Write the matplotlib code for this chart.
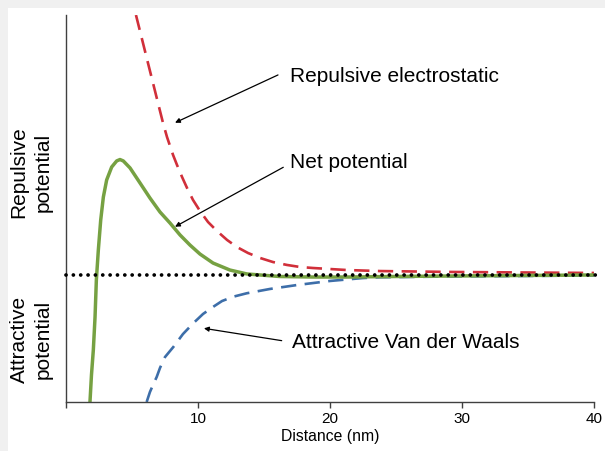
import matplotlib
matplotlib.use('Agg')
import matplotlib.pyplot as plt
from matplotlib.patches import Rectangle

plt.rcParams['font.family'] = ['Liberation Sans', 'DejaVu Sans']

# Curves (arbitrary potential units, zero = dotted line)
rep_x = [5.30, 5.83, 6.21, 6.59, 6.97, 7.35, 7.65, 8.11, 8.41, 8.79, 9.17, 9.62, 10.15, 10.76,
         11.44, 12.20, 12.95, 13.79, 14.70, 15.68, 16.74, 17.73, 18.71, 21.29, 23.79, 29.09,
         34.39, 40.0]
rep_y = [2.047, 1.827, 1.669, 1.512, 1.354, 1.197, 1.087, 0.945, 0.866, 0.772, 0.685, 0.591,
         0.504, 0.417, 0.346, 0.276, 0.220, 0.173, 0.134, 0.102, 0.079, 0.063, 0.055, 0.039,
         0.031, 0.024, 0.020, 0.016]

net_x = [1.80, 1.93, 2.07, 2.20, 2.30, 2.45, 2.63, 2.83, 3.08, 3.46, 3.84, 4.09, 4.34, 4.85,
         5.61, 6.36, 7.12, 7.88, 8.64, 9.39, 10.15, 11.14, 12.42, 13.71, 16.21, 18.71, 21.29,
         23.79, 29.09, 34.39, 40.0]
net_y = [-1.03, -0.787, -0.591, -0.331, -0.039, 0.197, 0.433, 0.614, 0.748, 0.850, 0.898,
         0.909, 0.898, 0.843, 0.724, 0.606, 0.496, 0.409, 0.315, 0.236, 0.165, 0.094, 0.039,
         0.008, -0.012, -0.016, -0.016, -0.013, -0.008, -0.004, 0.0]

att_x = [6.11, 6.36, 6.59, 6.87, 7.12, 7.50, 8.13, 8.86, 9.64, 10.38, 11.16, 11.82, 12.67,
         13.69, 15.45, 17.5, 20.0, 22.5, 23.79, 29.09, 34.39, 40.0]
att_y = [-1.0, -0.921, -0.866, -0.803, -0.732, -0.646, -0.567, -0.465, -0.380, -0.307,
         -0.250, -0.205, -0.171, -0.144, -0.110, -0.079, -0.047, -0.024, -0.018, -0.012,
         -0.008, -0.004]

x_ticks = [0, 10, 20, 30, 40]
x_tick_labels = ['', '10', '20', '30', '40']

RED = '#d12f3a'
GREEN = '#76a142'
BLUE = '#3d6ea9'

fig = plt.figure(figsize=(6.05, 4.51), dpi=100)
# screenshot frame (light gray strip top and left)
fig.patches.append(Rectangle((0, 1 - 8 / 451), 1, 8 / 451, transform=fig.transFigure,
                             facecolor='#f0f0f0', edgecolor='none', zorder=-5))
fig.patches.append(Rectangle((0, 0), 8 / 605, 1, transform=fig.transFigure,
                             facecolor='#f0f0f0', edgecolor='none', zorder=-5))

ax = fig.add_axes([66 / 605, 49 / 451, 528 / 605, 387 / 451])
ax.set_xlim(0, 40)
ax.set_ylim(-1.0, 2.047)

ax.plot(rep_x, rep_y, color=RED, lw=1.9, dashes=(5.8, 3.2))
ax.plot(att_x, att_y, color=BLUE, lw=1.9, dashes=(5.8, 3.2))
ax.plot(net_x, net_y, color=GREEN, lw=2.5, solid_joinstyle='round', solid_capstyle='butt')
ax.plot([0, 40.4], [0, 0], color='black', lw=2.7, dashes=(0.01, 1.95),
        dash_capstyle='round', clip_on=False, zorder=5)

for s in ['top', 'right']:
    ax.spines[s].set_visible(False)
for s in ['left', 'bottom']:
    ax.spines[s].set_color('#404040')
    ax.spines[s].set_linewidth(1.0)

ax.set_yticks([])
ax.set_xticks(x_ticks)
ax.set_xticklabels(x_tick_labels)
ax.tick_params(axis='x', direction='out', length=4, width=1.0, color='#404040',
               labelsize=11, pad=3)
ax.set_xlabel('Distance (nm)', fontsize=11.3, labelpad=2)

# side labels
fig.text(31 / 605, 1 - 172 / 451, 'Repulsive\npotential', rotation=90, ha='center',
         va='center', fontsize=15, linespacing=1.3)
fig.text(31 / 605, 1 - 339 / 451, 'Attractive\npotential', rotation=90, ha='center',
         va='center', fontsize=15, linespacing=1.3)

arrow = dict(arrowstyle='-|>', color='black', lw=0.9, mutation_scale=7, shrinkA=0, shrinkB=0)

ax.annotate('', xy=(8.26, 1.199), xytext=(16.06, 1.575), arrowprops=arrow)
ax.text(16.97, 1.516, 'Repulsive electrostatic', fontsize=15, va='baseline', ha='left')

ax.annotate('', xy=(8.26, 0.380), xytext=(16.46, 0.848), arrowprops=arrow)
ax.text(16.97, 0.839, 'Net potential', fontsize=15, va='baseline', ha='left')

ax.annotate('', xy=(10.45, -0.420), xytext=(16.34, -0.517), arrowprops=arrow)
ax.text(17.10, -0.571, 'Attractive Van der Waals', fontsize=15, va='baseline', ha='left')

fig.savefig('out.png', dpi=100)
